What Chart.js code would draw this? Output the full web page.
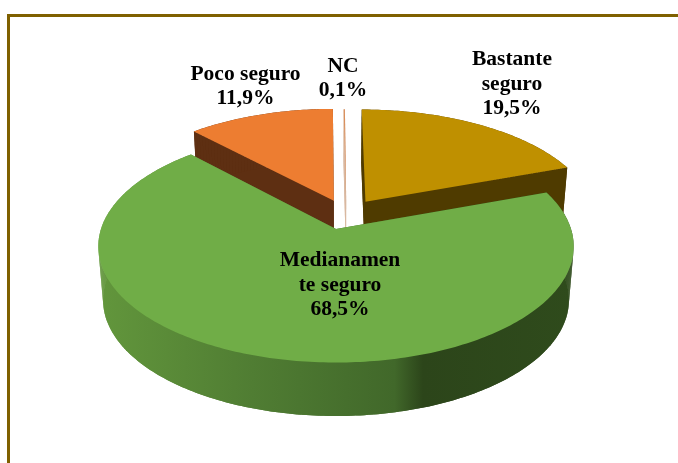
<!DOCTYPE html>
<html><head><meta charset="utf-8">
<style>html,body{margin:0;padding:0;background:#fff;overflow:hidden}canvas{display:block}</style>
<script src="https://cdn.jsdelivr.net/npm/chart.js@4"></script>
</head><body><canvas id="c" width="678" height="463"></canvas>
<script>
const categories = [["Bastante","seguro"],["Medianamen","te seguro"],["Poco seguro"],["NC"]];
const values = [19.5,68.5,11.9,0.1];
const topColors = ["#bf9000","#70ad47","#ed7d31","#d98f5c"];
const wallColors = ["#4f3b00","#2f4b1c","#5e2f12","#d9b8a0"];
const sliceShift = [[0.13,-0.25],[0,0],[-0.0095,-0.258],[0.045,-0.252]];
const labelPos = [[512,59.5],[340,260.5],[245.5,74],[343,66]];
const drawOrder = [2,3,0,1];
const P = {ax:336, ay:229, sx:235, sy:113.5, k:0.15, depth:53.5, bx:0.98};

function project(u,v,bottom){
  const w = 1 - P.k*v;
  const sx = bottom ? P.sx*P.bx : P.sx;
  return [P.ax + sx*u/w, P.ay + (bottom?P.depth:0) + P.sy*v/w];
}
function outline(arc,i,bottom){
  const [du,dv] = sliceShift[i];
  const pts = [project(du,dv,bottom)];
  const n = Math.max(2,Math.ceil((arc.endAngle-arc.startAngle)*60));
  for(let j=0;j<=n;j++){
    const a = arc.startAngle + (arc.endAngle-arc.startAngle)*j/n;
    pts.push(project(du+Math.cos(a),dv+Math.sin(a),bottom));
  }
  return pts;
}
function fillPts(ctx,pts,fill){
  ctx.beginPath();
  pts.forEach((p,i)=> i?ctx.lineTo(p[0],p[1]):ctx.moveTo(p[0],p[1]));
  ctx.closePath();
  ctx.fillStyle = fill; ctx.fill();
}
const solid3d = {
  id:'solid3d',
  beforeDatasetDraw(chart,args){
    const ctx = chart.ctx, arcs = chart.getDatasetMeta(0).data;
    ctx.save();
    // frame
    ctx.fillStyle = '#7f6000';
    ctx.fillRect(7,14,671,3);
    ctx.fillRect(7,14,3,449);
    for(const i of drawOrder){
      const arc = arcs[i];
      const t = outline(arc,i,false), b = outline(arc,i,true);
      let wall = wallColors[i];
      if(i===1){
        const g = ctx.createLinearGradient(100,0,575,0);
        g.addColorStop(0,'#62963c');
        g.addColorStop(0.32,'#507d33');
        g.addColorStop(0.62,'#41682a');
        g.addColorStop(0.68,'#2c451a');
        g.addColorStop(1,'#2f4b1c');
        wall = g;
      }
      fillPts(ctx,b,wall);
      for(let j=0;j<t.length;j++){
        const j2=(j+1)%t.length;
        fillPts(ctx,[t[j],t[j2],b[j2],b[j]],wall);
      }
      fillPts(ctx,t,arc.options.backgroundColor);
    }
    // labels
    ctx.fillStyle='#000';
    ctx.font='bold 21.5px "Liberation Serif"';
    ctx.textAlign='center';ctx.textBaseline='middle';
    categories.forEach((lines,i)=>{
      const [x,y]=labelPos[i];
      const all=[...lines,values[i].toFixed(1).replace('.',',')+'%'];
      all.forEach((s,l)=>ctx.fillText(s,x,y+l*24.5));
    });
    ctx.restore();
    return false;
  }
};
new Chart(document.getElementById('c'),{
  type:'pie',
  data:{labels:categories,datasets:[{data:values,backgroundColor:topColors,borderWidth:0}]},
  options:{responsive:false,animation:false,
    plugins:{legend:{display:false},tooltip:{enabled:false}}},
  plugins:[solid3d]
});
</script></body></html>
